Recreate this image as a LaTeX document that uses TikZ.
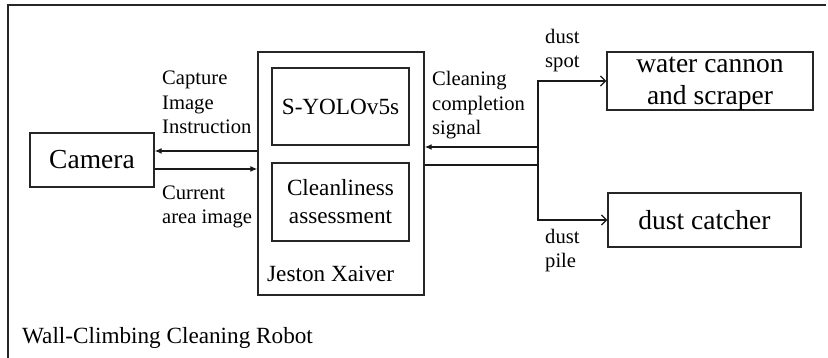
\documentclass[tikz,border=0pt]{standalone}
\usepackage{fontspec}
\setmainfont{Liberation Serif}
\usetikzlibrary{arrows.meta, positioning, calc}

\begin{document}
\begin{tikzpicture}[
    x=1pt,
    y=-1pt,
    unit_box/.style={
        rectangle,
        draw=black!85,
        line width=1.4pt,
        inner sep=0pt,
        align=center,
        font=\fontsize{27.5}{32}\selectfont
    },
    module_box/.style={
        rectangle,
        draw=black!85,
        line width=1.4pt,
        inner sep=0pt,
        align=center,
        font=\fontsize{23.2}{28}\selectfont
    },
    sig_label/.style={
        anchor=base west,
        align=left,
        inner sep=0pt,
        font=\fontsize{20.6}{24.5}\selectfont
    },
    data_arrow/.style={
        -{Latex[length=7pt, width=6pt]},
        line width=1.2pt,
        draw=black!90
    },
    act_arrow/.style={
        -{Straight Barb[length=5pt, width=10pt]},
        line width=1.2pt,
        draw=black!90
    }
]
    \useasboundingbox (0,0) rectangle (828,358);

    % Robot frame
    \draw[line width=1.2pt, black!85] (826,5) -- (8,5) -- (8,358);
    \node[anchor=base west, inner sep=0pt, font=\fontsize{23.2}{28}\selectfont]
        (robot_lbl) at (22,343) {Wall-Climbing Cleaning Robot};

    % Camera
    \node[unit_box, minimum width=124pt, minimum height=54pt] (camera) at (92,160) {Camera};

    % Controller and its modules
    \node[module_box, minimum width=166pt, minimum height=243pt] (jetson) at (341,173.5) {};
    \node[module_box, minimum width=137pt, minimum height=77pt] (yolo) at (340.5,106.5) {S-YOLOv5s};
    \node[module_box, minimum width=137pt, minimum height=78pt] (clean) at (340.5,202) {
        Cleanliness\\assessment
    };
    \node[anchor=base west, inner sep=0pt, font=\fontsize{23.2}{28}\selectfont]
        (jetson_lbl) at (267,282) {Jeston Xaiver};

    % Actuators
    \node[unit_box, minimum width=206pt, minimum height=58pt] (cannon) at (710,81) {};
    \node[anchor=base, inner sep=0pt, align=center, font=\fontsize{27.5}{32}\selectfont]
        (cannon_txt) at (710,105) {water cannon\\and scraper};
    \node[unit_box, minimum width=193pt, minimum height=54pt] (catcher) at (704.5,220) {dust catcher};

    % Camera <-> controller
    \draw[data_arrow] ([yshift=9pt]camera.east -| jetson.west) -- ([yshift=9pt]camera.east);
    \draw[data_arrow] ([yshift=-9pt]camera.east) -- ([yshift=-9pt]camera.east -| jetson.west);
    \node[sig_label] (capture_lbl) at (162,134) {Capture\\Image\\Instruction};
    \node[sig_label] (current_lbl) at (162,224) {Current\\area image};

    % Controller <-> actuators
    \coordinate (tap) at (538,165);
    \coordinate (back) at (538,147);
    \draw[line width=1.2pt, black!90] (jetson.east |- tap) -- (tap);
    \draw[data_arrow] (back) -- (jetson.east |- back);
    \draw[act_arrow] (tap) |- (cannon.west);
    \draw[act_arrow] (tap) |- (catcher.west);
    \node[sig_label] (done_lbl) at (432,135) {Cleaning\\completion\\signal};
    \node[sig_label] (spot_lbl) at (545,68) {dust\\spot};
    \node[sig_label] (pile_lbl) at (545,268) {dust\\pile};
\end{tikzpicture}
\end{document}
